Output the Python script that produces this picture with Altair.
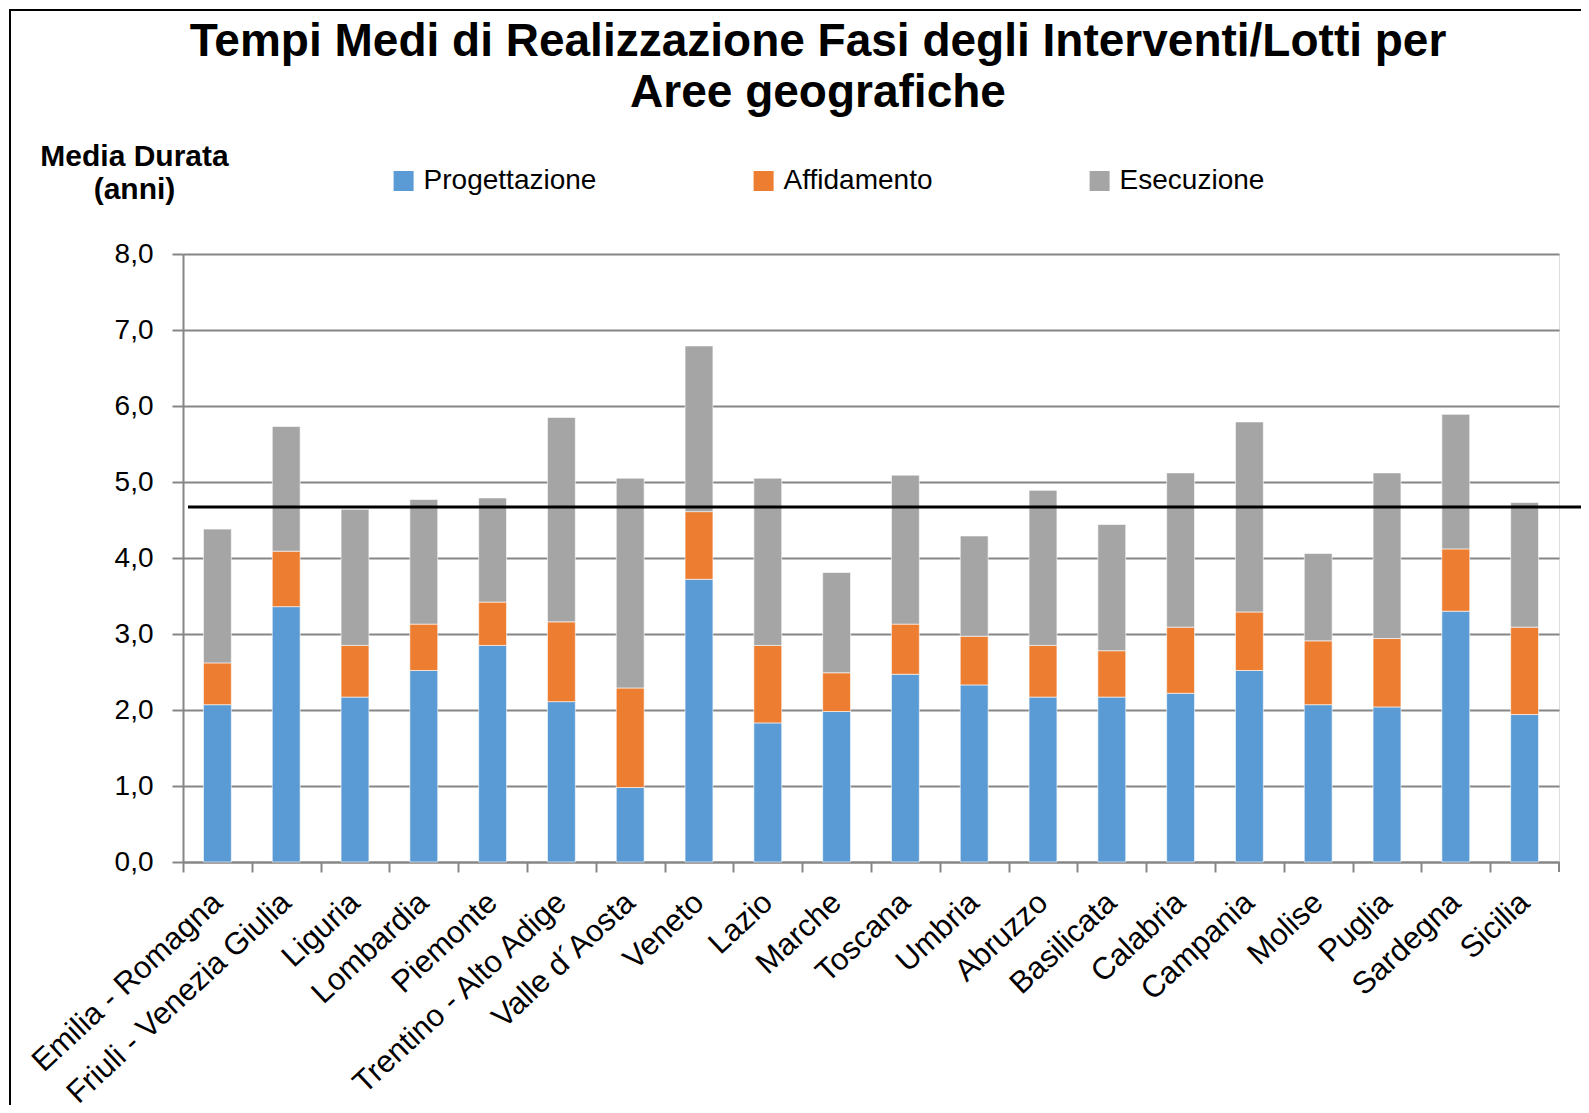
import altair as alt
import pandas as pd

regioni = ["Emilia - Romagna", "Friuli - Venezia  Giulia", "Liguria", "Lombardia", "Piemonte",
           "Trentino - Alto Adige", "Valle d\u00b4Aosta", "Veneto", "Lazio", "Marche", "Toscana",
           "Umbria", "Abruzzo", "Basilicata", "Calabria", "Campania", "Molise", "Puglia",
           "Sardegna", "Sicilia"]

progettazione = [2.07, 3.36, 2.17, 2.52, 2.85, 2.11, 0.98, 3.72, 1.83, 1.98,
                 2.47, 2.33, 2.17, 2.17, 2.22, 2.52, 2.07, 2.04, 3.30, 1.94]
affidamento = [0.55, 0.73, 0.68, 0.61, 0.57, 1.05, 1.31, 0.89, 1.02, 0.51,
               0.66, 0.64, 0.68, 0.61, 0.87, 0.77, 0.84, 0.90, 0.82, 1.15]
esecuzione = [1.76, 1.64, 1.79, 1.64, 1.37, 2.69, 2.76, 2.18, 2.20, 1.32,
              1.96, 1.32, 2.04, 1.66, 2.03, 2.50, 1.15, 2.18, 1.77, 1.64]
media_generale = [4.67]

fasi = ["Progettazione", "Affidamento", "Esecuzione"]
colori = ["#5B9BD5", "#ED7D31", "#A5A5A5"]
y_ticks = [0, 1, 2, 3, 4, 5, 6, 7, 8]

titolo = ["Tempi Medi di Realizzazione Fasi degli Interventi/Lotti  per", "Aree geografiche"]

rows = []
for i, r in enumerate(regioni):
    for k, (fase, vals) in enumerate(zip(fasi, [progettazione, affidamento, esecuzione])):
        rows.append({"regione": r, "fase": fase, "ordine": k, "valore": vals[i]})
df = pd.DataFrame(rows)

FONT = "Liberation Sans"
GRID = "#868686"

W, H = 1376, 608
STEP = W / len(regioni)

bars = alt.Chart(df).mark_bar(stroke="white", strokeWidth=0.6).encode(
    x=alt.X("regione:N", sort=regioni,
            scale=alt.Scale(paddingInner=0.595, paddingOuter=0.2975),
            axis=alt.Axis(title=None, labelAngle=-43, labelAlign="right", labelBaseline="middle",
                          labelFontSize=31, labelFont=FONT, labelColor="black",
                          labelPadding=26, tickOffset=-STEP / 2, labelOffset=STEP / 2,
                          tickSize=10, tickColor=GRID, tickWidth=2,
                          domainColor=GRID, domainWidth=2,
                          grid=False, labelLimit=600)),
    y=alt.Y("valore:Q", stack="zero",
            scale=alt.Scale(domain=[0, 8], nice=False),
            axis=alt.Axis(values=y_ticks,
                          labelExpr="replace(format(datum.value, '.1f'), '.', ',')",
                          labelFontSize=28, labelFont=FONT, labelColor="black",
                          labelPadding=19, tickSize=11, tickColor=GRID, tickWidth=2,
                          domainColor=GRID, domainWidth=2,
                          grid=True, gridColor=GRID, gridWidth=2,
                          title=["Media Durata", "(anni)"], titleAngle=0,
                          titleX=-49, titleY=-89, titleAlign="center",
                          titleBaseline="alphabetic", titleFontSize=30,
                          titleFont=FONT, titleFontWeight="bold",
                          titleLineHeight=33, titleColor="black")),
    color=alt.Color("fase:N", scale=alt.Scale(domain=fasi, range=colori),
                    legend=alt.Legend(orient="none", legendX=206.6, legendY=-87,
                                      direction="horizontal", title=None,
                                      symbolType="square", symbolSize=400,
                                      symbolStrokeWidth=0, labelFontSize=28,
                                      labelFont=FONT, labelColor="black",
                                      labelOffset=6, columnPadding=153, padding=0,
                                      labelLimit=600)),
    order=alt.Order("ordine:Q", sort="ascending"),
)

media = alt.Chart(pd.DataFrame({"media": media_generale})).mark_rule(
    color="black", strokeWidth=3
).encode(
    y="media:Q",
    x=alt.value(5),
    x2=alt.value(W + 40),
)

cornice = alt.Data(values=[{"k": 0}])
bordo_sx = alt.Chart(cornice).mark_rule(color="black", strokeWidth=2).encode(
    x=alt.value(-173), y=alt.value(-244), y2=alt.value(H + 300)
)
bordo_su = alt.Chart(cornice).mark_rule(color="black", strokeWidth=2).encode(
    x=alt.value(-174), x2=alt.value(W + 60), y=alt.value(-244)
)
# last tick at the right end of the category axis
tick_fine = alt.Chart(cornice).mark_rule(color=GRID, strokeWidth=2).encode(
    x=alt.value(W), y=alt.value(H), y2=alt.value(H + 10)
)

chart = alt.layer(bars, media, bordo_sx, bordo_su, tick_fine).properties(
    width=W, height=H,
    padding={"left": 175, "top": 246, "right": 22, "bottom": 243},
    autosize=alt.AutoSizeParams(type="none"),
    title=alt.TitleParams(text=titolo, fontSize=46, font=FONT, fontWeight="bold",
                          anchor="middle", frame="group", dx=-53, lineHeight=51,
                          baseline="bottom", offset=-154, color="black"),
).configure_view(stroke=None).configure(background="white")

chart.save("out.html", embed_options={"renderer": "svg", "actions": False})
